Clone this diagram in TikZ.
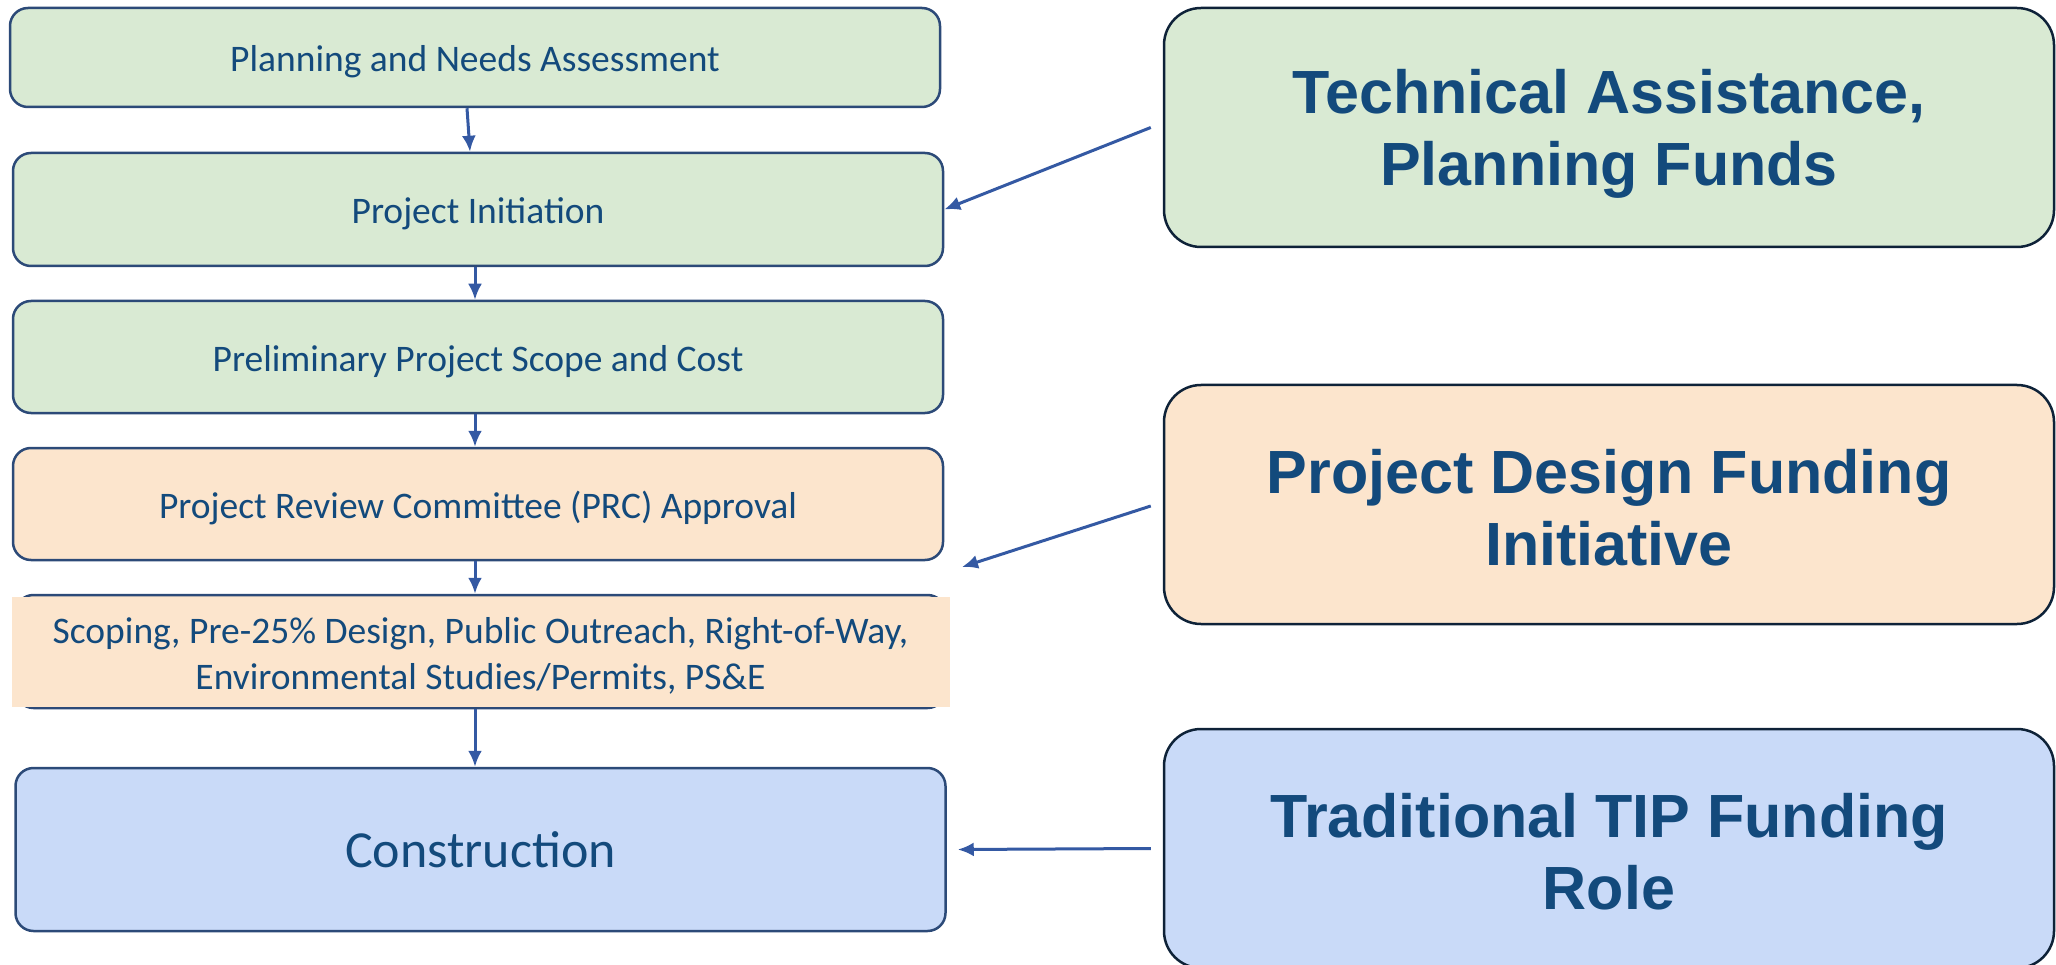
\documentclass[tikz,border=0pt]{standalone}
\usepackage{fontspec}
\newfontfamily\calfont{Carlito}
\newfontfamily\arfont{Liberation Sans}
\usetikzlibrary{arrows.meta}
\definecolor{gfill}{HTML}{D9EAD3}
\definecolor{pfill}{HTML}{FCE5CD}
\definecolor{bfill}{HTML}{C9DAF8}
\definecolor{txt}{HTML}{134A7C}
\definecolor{lbord}{HTML}{2C4A78}
\definecolor{rbord}{HTML}{0E2238}
\definecolor{arrc}{HTML}{3459A3}
\begin{document}
\begin{tikzpicture}[x=1pt,y=-1pt,
  lbox/.style={draw=lbord, line width=2.5pt, rounded corners=18pt,
    minimum width=930pt, inner sep=0pt, text=txt, align=center,
    font=\calfont\fontsize{37.5}{46}\selectfont},
  oneline/.style={text height=34pt, text depth=5.5pt},
  rbox/.style={draw=rbord, line width=2.5pt, rounded corners=37pt,
    minimum width=890pt, minimum height=239pt, inner sep=0pt},
  rtext/.style={text=txt, align=center, inner sep=0pt,
    font=\arfont\bfseries\fontsize{61}{72}\selectfont},
  arr/.style={draw=arrc, line width=3pt, -{Latex[length=16pt,width=14pt]}}]
\useasboundingbox (0,0) rectangle (2056,965);

% left column
\node[lbox, oneline, fill=gfill, minimum height=99pt] (b1) at (475,57.5) {Planning and Needs Assessment};
\node[lbox, oneline, fill=gfill, minimum height=113pt] (b2) at (478,209.5) {Project Initiation};
\node[lbox, oneline, fill=gfill, minimum height=112pt] (b3) at (478,357) {Preliminary Project Scope and Cost};
\node[lbox, oneline, fill=pfill, minimum height=112pt] (b4) at (478,504) {Project Review Committee (PRC) Approval};
\node[lbox, fill=pfill, minimum height=113pt] (b5) at (480.5,651.5) {};
\fill[pfill] (12,597) rectangle (950,707);
\node[text=txt, align=center, font=\calfont\fontsize{37.5}{46}\selectfont, yshift=-4pt] (b5t) at (b5.center)
  {Scoping, Pre-25\% Design, Public Outreach, Right-of-Way,\\Environmental Studies/Permits, PS\&E};
\node[lbox, fill=bfill, minimum height=163pt, font=\calfont\fontsize{52}{60}\selectfont] (b6) at (480.5,849.5) {Construction};

% right column
\node[rbox, fill=gfill] (r1) at (1609,127.5) {};
\node[rtext, yshift=-6.5pt] (r1t) at (r1.center) {Technical Assistance,\\Planning Funds};
\node[rbox, fill=pfill] (r2) at (1609,504.5) {};
\node[rtext, yshift=-3pt] (r2t) at (r2.center) {Project Design Funding\\Initiative};
\node[rbox, fill=bfill] (r3) at (1609,848.5) {};
\node[rtext, yshift=-3pt] (r3t) at (r3.center) {Traditional TIP Funding\\Role};

% vertical arrows
\draw[arr] ([xshift=-8pt]b1.south) -- ([xshift=-8pt]b2.north);
\draw[arr] ([xshift=-3pt]b2.south) -- ([xshift=-3pt]b3.north);
\draw[arr] ([xshift=-3pt]b3.south) -- ([xshift=-3pt]b4.north);
\draw[arr] ([xshift=-3pt]b4.south) -- ([xshift=-3pt]b4.south |- b5.north);
\draw[arr] ([xshift=-5.5pt]b5.south) -- ([xshift=-5.5pt]b6.north);

% side arrows
\coordinate (e2) at (962,567);
\draw[arr] ([xshift=-12pt]r1.west) -- (b2.east);
\draw[arr] ([xshift=-12pt,yshift=-1.5pt]r2.west) -- (e2);
\draw[arr] ([xshift=-12pt]r3.west) -- ([xshift=11pt]b6.east);
\end{tikzpicture}
\end{document}
